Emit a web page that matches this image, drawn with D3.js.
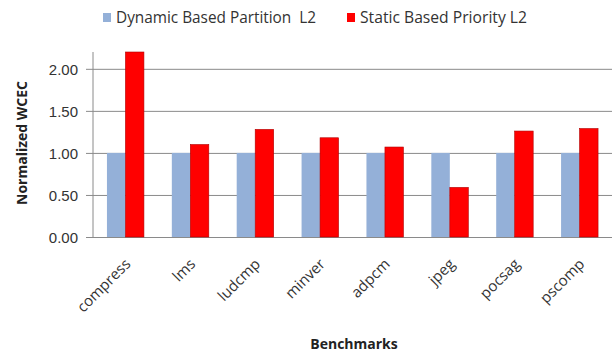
<!DOCTYPE html>
<html>
<head>
<meta charset="utf-8">
<script src="https://cdn.jsdelivr.net/npm/d3@7"></script>
<style>
  html, body { margin: 0; padding: 0; background: #fff; }
  svg { display: block; font-family: "Open Sans", "Noto Sans", sans-serif; }
</style>
</head>
<body>
<svg id="chart" width="613" height="353"></svg>
<script>
// Benchmarks on the x axis
const categories = ["compress", "lms", "ludcmp", "minver", "adpcm", "jpeg", "pocsag", "pscomp"];
// Normalized WCEC for each scheme
const dynamicPartition = [1.00, 1.00, 1.00, 1.00, 1.00, 1.00, 1.00, 1.00];
const staticPriority   = [2.20, 1.10, 1.28, 1.18, 1.07, 0.59, 1.26, 1.29];
const seriesNames = ["Dynamic Based Partition\u00a0\u00a0L2", "Static Based Priority L2"];
const yTicks = [0, 0.5, 1.0, 1.5, 2.0];

const colors = ["#94b0d8", "#ff0000"];
const strokes = ["none", "#b00000"];

const svg = d3.select("#chart");
const margin = { left: 93, right: 1, top: 52, bottom: 116 };
const W = 613, H = 353;
const plotW = W - margin.left - margin.right;
const plotH = H - margin.top - margin.bottom;

const x = d3.scaleBand().domain(categories).range([margin.left, margin.left + plotW]).paddingInner(0.43).paddingOuter(0.215);
const xs = d3.scaleBand().domain([0, 1]).range([0, x.bandwidth()]);
const y = d3.scaleLinear().domain([0, 2.2]).range([margin.top + plotH, margin.top]);

// horizontal gridlines with short outer ticks
const yAxis = d3.axisLeft(y).tickValues(yTicks).tickFormat(d3.format(".2f"))
  .tickSize(0).tickPadding(8);
const gy = svg.append("g").attr("transform", `translate(${margin.left - 7},0)`).call(yAxis);
gy.select(".domain").remove();
gy.selectAll(".tick line").attr("stroke", "#8a8a8a").attr("x1", 0).attr("x2", plotW + 7);
gy.selectAll(".tick text").attr("fill", "#333").style("font-size", "15px").attr("dy", "0.36em");

// bars
const data = categories.map((c, i) => ({ c, vals: [dynamicPartition[i], staticPriority[i]] }));
const groups = svg.append("g").selectAll("g").data(data).join("g")
  .attr("transform", d => `translate(${x(d.c)},0)`);
groups.selectAll("rect").data(d => d.vals.map((v, k) => ({ v, k }))).join("rect")
  .attr("x", d => xs(d.k))
  .attr("width", xs.bandwidth())
  .attr("y", d => y(d.v))
  .attr("height", d => y(0) - y(d.v))
  .attr("fill", d => colors[d.k])
  .attr("stroke", d => strokes[d.k])
  .attr("stroke-width", 0.6);

// vertical axis line
svg.append("line")
  .attr("x1", margin.left).attr("x2", margin.left)
  .attr("y1", margin.top).attr("y2", y(0))
  .attr("stroke", "#8a8a8a");

// category labels, rotated
svg.append("g").selectAll("text").data(categories).join("text")
  .attr("transform", d => `translate(${x(d) + x.bandwidth() / 2 + 6},${y(0) + 28}) rotate(-45)`)
  .attr("text-anchor", "end")
  .attr("fill", "#333")
  .style("font-size", "15px")
  .text(d => d);

// axis titles
svg.append("text")
  .attr("transform", `translate(27,143) rotate(-90)`)
  .attr("text-anchor", "middle")
  .attr("font-weight", "bold")
  .style("font-size", "14px")
  .attr("fill", "#222")
  .text("Normalized WCEC");

svg.append("text")
  .attr("x", 354).attr("y", 349)
  .attr("text-anchor", "middle")
  .attr("font-weight", "bold")
  .style("font-size", "14px")
  .attr("fill", "#222")
  .text("Benchmarks");

// legend
const legendX = [103, 347];
const legendW = [200, 167];
const lg = svg.append("g").selectAll("g").data(seriesNames).join("g")
  .attr("transform", (d, i) => `translate(${legendX[i]},13)`);
lg.append("rect").attr("width", 8).attr("height", 9)
  .attr("fill", (d, i) => colors[i]);
lg.append("text").attr("x", 13).attr("y", 10)
  .attr("textLength", (d, i) => legendW[i]).attr("lengthAdjust", "spacingAndGlyphs")
  .style("font-size", "16px").attr("fill", "#333")
  .text(d => d);
</script>
</body>
</html>
